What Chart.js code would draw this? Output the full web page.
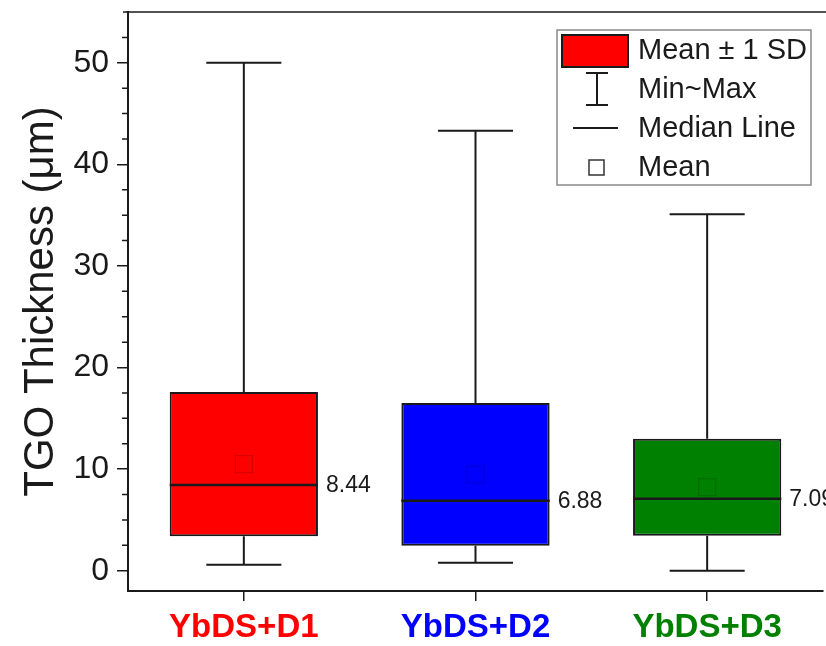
<!DOCTYPE html>
<html>
<head>
<meta charset="utf-8">
<script src="https://cdn.jsdelivr.net/npm/chart.js@4"></script>
<style>
  html, body { margin: 0; padding: 0; background: #fff; overflow: hidden; }
  #wrap { width: 826px; height: 646px; }
</style>
</head>
<body>
<div id="wrap"><canvas id="boxChart" width="826" height="646"></canvas></div>
<script>
// data
const groups = ["YbDS+D1", "YbDS+D2", "YbDS+D3"];
const groupColors = ["#ff0000", "#0000ff", "#008000"];
const means = [10.49, 9.48, 8.22];
const sds = [7.11, 7.02, 4.78];
const medians = [8.44, 6.88, 7.09];
const mins = [0.59, 0.79, 0.0];
const maxs = [50.0, 43.3, 35.1];
const yTicks = [0, 10, 20, 30, 40, 50];
const yMinorTicks = [2.5, 5, 7.5, 12.5, 15, 17.5, 22.5, 25, 27.5, 32.5, 35, 37.5, 42.5, 45, 47.5, 52.5];
const legendItems = ["Mean \u00b1 1 SD", "Min~Max", "Median Line", "Mean"];

const FONT = "'Liberation Sans', Arial, sans-serif";
const INK = "#1a1a1a";

const boxRanges = groups.map((g, i) => [means[i] - sds[i], means[i] + sds[i]]);

// whiskers, medians, means, minor ticks, frame and legend
const boxExtras = {
    id: "boxExtras",
    afterDatasetsDraw(chart) {
        const { ctx, chartArea, scales: { x, y } } = chart;
        const catW = x.getPixelForValue(1) - x.getPixelForValue(0);
        const boxHalf = catW * 0.32;
        const capHalf = catW * 0.162;

        ctx.save();
        ctx.strokeStyle = INK;
        ctx.lineWidth = 2;

        groups.forEach((g, i) => {
            const cx = x.getPixelForValue(i);
            const yTop = y.getPixelForValue(boxRanges[i][1]);
            const yBot = y.getPixelForValue(boxRanges[i][0]);
            const yMax = y.getPixelForValue(maxs[i]);
            const yMin = y.getPixelForValue(mins[i]);

            // whiskers
            ctx.beginPath();
            ctx.moveTo(cx, yTop); ctx.lineTo(cx, yMax);
            ctx.moveTo(cx - capHalf, yMax); ctx.lineTo(cx + capHalf, yMax);
            ctx.moveTo(cx, yBot); ctx.lineTo(cx, yMin);
            ctx.moveTo(cx - capHalf, yMin); ctx.lineTo(cx + capHalf, yMin);
            ctx.stroke();

            // median line
            const yMed = y.getPixelForValue(medians[i]);
            ctx.lineWidth = 2.5;
            ctx.beginPath();
            ctx.moveTo(cx - boxHalf, yMed); ctx.lineTo(cx + boxHalf, yMed);
            ctx.stroke();
            ctx.lineWidth = 2;

            // mean marker (faint square)
            const yMean = y.getPixelForValue(means[i]);
            ctx.save();
            ctx.strokeStyle = "rgba(0,0,0,0.16)";
            ctx.lineWidth = 1.2;
            ctx.strokeRect(cx - 8.5, yMean - 8.5, 17, 17);
            ctx.restore();

            // median value label
            ctx.fillStyle = INK;
            ctx.font = "23px " + FONT;
            ctx.textAlign = "left";
            ctx.textBaseline = "middle";
            ctx.fillText(medians[i].toFixed(2), cx + boxHalf + 8, yMed + 1);
        });

        // minor ticks on y axis
        ctx.lineWidth = 1.5;
        ctx.beginPath();
        yMinorTicks.forEach(v => {
            const py = y.getPixelForValue(v);
            ctx.moveTo(chartArea.left - 6, py);
            ctx.lineTo(chartArea.left, py);
        });
        // top frame
        ctx.moveTo(chartArea.left - 5, chartArea.top);
        ctx.lineTo(chart.width + 5, chartArea.top);
        ctx.stroke();
        ctx.restore();
    },
    afterDraw(chart) {
        const ctx = chart.ctx;
        ctx.save();

        // legend frame
        ctx.fillStyle = "#ffffff";
        ctx.fillRect(557, 30, 254, 155);
        ctx.strokeStyle = "#8a8a8a";
        ctx.lineWidth = 1.5;
        ctx.strokeRect(557, 30, 254, 155);

        const rowY = [50, 89, 128, 167];

        // Mean ± 1 SD swatch
        ctx.fillStyle = groupColors[0];
        ctx.fillRect(561, 34, 68, 34);
        ctx.strokeStyle = INK;
        ctx.lineWidth = 2;
        ctx.strokeRect(562, 35, 66, 32);

        // Min~Max I-beam
        ctx.beginPath();
        ctx.moveTo(597, rowY[1] - 16); ctx.lineTo(597, rowY[1] + 16);
        ctx.moveTo(586, rowY[1] - 16); ctx.lineTo(608, rowY[1] - 16);
        ctx.moveTo(586, rowY[1] + 16); ctx.lineTo(608, rowY[1] + 16);
        ctx.stroke();

        // Median line sample
        ctx.beginPath();
        ctx.moveTo(573, rowY[2]); ctx.lineTo(618, rowY[2]);
        ctx.stroke();

        // Mean square
        ctx.lineWidth = 1.5;
        ctx.strokeStyle = "#333";
        ctx.strokeRect(589, rowY[3] - 7, 15, 15);

        ctx.fillStyle = INK;
        ctx.font = "29px " + FONT;
        ctx.textAlign = "left";
        ctx.textBaseline = "middle";
        legendItems.forEach((t, i) => ctx.fillText(t, 638, rowY[i] + 1));

        ctx.restore();
    }
};

new Chart(document.getElementById("boxChart"), {
    type: "bar",
    data: {
        labels: groups,
        datasets: [
            {
                label: legendItems[0],
                data: boxRanges,
                backgroundColor: groupColors,
                borderColor: INK,
                borderWidth: 2,
                borderSkipped: false,
                barPercentage: 0.64,
                categoryPercentage: 1
            }
        ]
    },
    options: {
        responsive: false,
        animation: false,
        layout: { padding: { top: 12, right: 3, left: 0, bottom: 0 } },
        plugins: {
            legend: { display: false },
            tooltip: { enabled: false }
        },
        scales: {
            x: {
                offset: true,
                grid: {
                    display: true,
                    offset: false,
                    drawOnChartArea: false,
                    drawTicks: true,
                    tickLength: 10,
                    color: INK,
                    lineWidth: 1.5
                },
                border: { color: INK, width: 2 },
                ticks: {
                    color: (c) => groupColors[c.index],
                    font: { family: FONT, size: 33, weight: "bold" },
                    padding: 7,
                    maxRotation: 0
                },
                afterFit(s) {
                    s.height = 55;
                    s.paddingLeft = 0;
                    s.paddingRight = 0;
                }
            },
            y: {
                min: -2,
                max: 55,
                afterBuildTicks(s) {
                    s.ticks = yTicks.map(v => ({ value: v }));
                },
                grid: {
                    drawOnChartArea: false,
                    tickLength: 11,
                    color: INK,
                    lineWidth: 1.5
                },
                border: { color: INK, width: 2 },
                ticks: {
                    color: INK,
                    font: { family: FONT, size: 32 },
                    padding: 8
                },
                title: {
                    display: true,
                    text: "TGO Thickness (\u03bcm)",
                    color: INK,
                    font: { family: FONT, size: 42 },
                    padding: { top: 16, bottom: 0 }
                },
                afterFit(s) {
                    s.width = 128;
                    s.paddingTop = 0;
                    s.paddingBottom = 0;
                }
            }
        }
    },
    plugins: [boxExtras]
});
</script>
</body>
</html>
